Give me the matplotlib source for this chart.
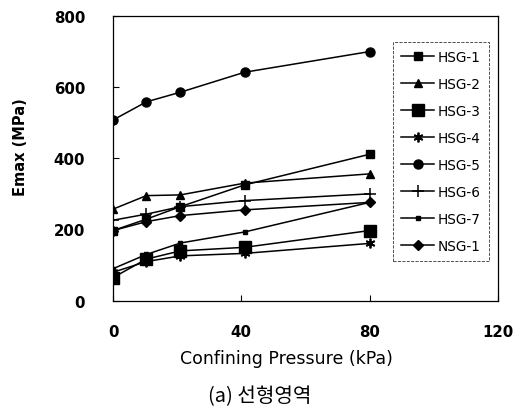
import matplotlib
matplotlib.use("Agg")
import matplotlib.pyplot as plt

pressure = [0, 10.4, 21, 41, 80]
hsg1 = [197, 229, 264, 325, 411]
hsg2 = [257, 295, 297, 330, 356]
hsg3 = [65, 117, 140, 150, 197]
hsg4 = [80, 110, 126, 133, 161]
hsg5 = [507, 558, 585, 641, 699]
hsg6 = [226, 243, 264, 281, 300]
hsg7 = [90, 130, 162, 193, 276]
nsg1 = [197, 222, 239, 255, 276]
labels = ["HSG-1", "HSG-2", "HSG-3", "HSG-4", "HSG-5", "HSG-6", "HSG-7", "NSG-1"]
xticks = [0, 40, 80, 120]
yticks = [0, 200, 400, 600, 800]

plt.rcParams['font.family'] = ['DejaVu Sans']

fig = plt.figure(figsize=(5.16, 4.14), dpi=100)
ax = fig.add_axes([0.219, 0.271, 0.746, 0.689])

series = [hsg1, hsg2, hsg3, hsg4, hsg5, hsg6, hsg7, nsg1]
styles = [
    dict(marker='s', ms=6),
    dict(marker='^', ms=6),
    dict(marker='s', ms=8.5),
    dict(marker=(6, 2, 0), ms=7, mew=1.3),
    dict(marker='o', ms=6.5),
    dict(marker='+', ms=8, mew=1.1),
    dict(marker='s', ms=3.5),
    dict(marker='D', ms=5),
]
for vals, lab, st in zip(series, labels, styles):
    ax.plot(pressure, vals, color='black', lw=1.1, mfc='black', mec='black',
            label=lab, **st)

ax.set_xlim(0, 120)
ax.set_ylim(0, 800)
ax.set_xticks(xticks)
ax.set_yticks(yticks)
ax.tick_params(direction='in', length=4, width=0.8, labelsize=10.8)
ax.tick_params(axis='y', pad=20)
ax.tick_params(axis='x', pad=17)
for lbl in ax.get_xticklabels() + ax.get_yticklabels():
    lbl.set_fontweight('bold')
for s in ax.spines.values():
    s.set_linewidth(0.9)

ax.set_ylabel("Emax (MPa)", fontsize=10.5, fontweight='bold')
ax.yaxis.set_label_coords(-0.222, 0.543)
ax.set_xlabel("Confining Pressure (kPa)", fontsize=12.5)
ax.xaxis.set_label_coords(0.451, -0.168)

leg = ax.legend(loc='upper left', bbox_to_anchor=(0.762, 0.896),
                bbox_transform=fig.transFigure, borderaxespad=0,
                fontsize=9.8, frameon=True, fancybox=False,
                handlelength=2.4, handletextpad=0.25, labelspacing=0.95,
                borderpad=0.6)
leg.get_frame().set_edgecolor('black')
leg.get_frame().set_linewidth(0.6)
leg.get_frame().set_linestyle('--')

fig.text(0.504, 0.041, "(a) 선형영역", ha='center', va='center', fontsize=14.5,
         family=['Noto Sans CJK KR', 'DejaVu Sans'])

fig.savefig("out.png", dpi=100)
